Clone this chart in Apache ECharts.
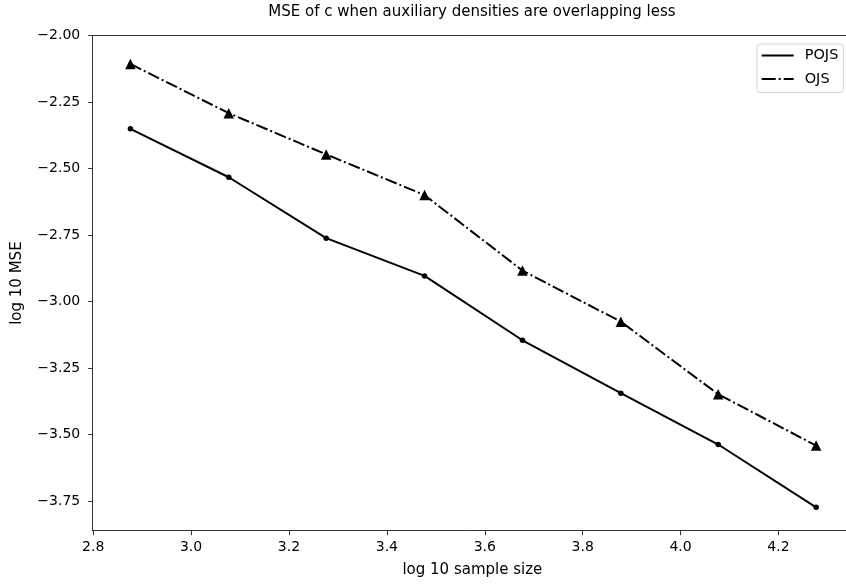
<!DOCTYPE html>
<html>
<head>
<meta charset="utf-8">
<script src="https://cdn.jsdelivr.net/npm/echarts@6/dist/echarts.min.js"></script>
<style>
html,body{margin:0;padding:0;background:#fff;}
#chart{width:846px;height:584px;}
</style>
</head>
<body>
<div id="chart"></div>
<script>
// Data
const sampleSizeLog = [2.876, 3.077, 3.276, 3.477, 3.677, 3.878, 4.077, 4.277];
const pojsMSE = [-2.351, -2.533, -2.762, -2.904, -3.146, -3.345, -3.538, -3.774];
const ojsMSE  = [-2.107, -2.292, -2.447, -2.600, -2.884, -3.076, -3.349, -3.542];
const xTicks = [2.8, 3.0, 3.2, 3.4, 3.6, 3.8, 4.0, 4.2];
const yTicks = [-3.75, -3.50, -3.25, -3.00, -2.75, -2.50, -2.25, -2.00];

const FONT = 'DejaVu Sans';
const pairs = (xs, ys) => xs.map((x, i) => [x, ys[i]]);
const minus = s => s.replace('-', '\u2212');

const chart = echarts.init(document.getElementById('chart'), null, {renderer: 'canvas'});
chart.setOption({
  animation: false,
  backgroundColor: '#fff',
  textStyle: {fontFamily: FONT},
  title: {
    text: 'MSE of c when auxiliary densities are overlapping less',
    left: 472, top: 5, textAlign: 'center', padding: 0,
    textStyle: {fontFamily: FONT, fontSize: 15, fontWeight: 'normal', color: '#000'}
  },
  grid: {left: 92.7, right: 0, top: 35.5, bottom: 53.3, containLabel: false},
  legend: {
    orient: 'vertical', left: 757, top: 44,
    padding: [4, 5, 6, 4.7],
    itemWidth: 32, itemHeight: 14, itemGap: 8.5,
    backgroundColor: '#fff', borderColor: '#d0d0d0', borderWidth: 1, borderRadius: 3,
    textStyle: {fontFamily: FONT, fontSize: 14.5, lineHeight: 15, color: '#000', padding: [0, 0, 0, 6]},
    data: [
      {name: 'POJS', icon: 'path://M0,0H32V2H0Z', itemStyle: {color: '#000'}},
      {name: 'OJS', icon: 'path://M0,0H14V2H0Z M17,0H19V2H17Z M22,0H32V2H22Z', itemStyle: {color: '#000'}}
    ]
  },
  xAxis: [{
    type: 'value', min: 2.799, max: 4.338,
    name: 'log 10 sample size', nameLocation: 'middle', nameGap: 31.5,
    nameTextStyle: {fontFamily: FONT, fontSize: 15, color: '#000', padding: [0, 0, 0, 6]},
    axisLine: {show: true, onZero: false, lineStyle: {color: '#333', width: 1}},
    axisTick: {show: true, inside: false, length: 4.5, customValues: xTicks, lineStyle: {color: '#333', width: 1}},
    axisLabel: {show: true, margin: 10, customValues: xTicks, fontFamily: FONT, fontSize: 14, color: '#000',
      formatter: v => v.toFixed(1)},
    splitLine: {show: false}
  }, {
    type: 'value', position: 'top', min: 2.799, max: 4.338,
    axisLine: {show: true, onZero: false, lineStyle: {color: '#333', width: 1}},
    axisTick: {show: false}, axisLabel: {show: false}, splitLine: {show: false}
  }],
  yAxis: {
    type: 'value', min: -3.862, max: -2.0,
    name: 'log 10 MSE', nameLocation: 'middle', nameGap: 68,
    nameTextStyle: {fontFamily: FONT, fontSize: 15, color: '#000'},
    axisLine: {show: true, onZero: false, lineStyle: {color: '#333', width: 1}},
    axisTick: {show: true, inside: false, length: 4.5, customValues: yTicks, lineStyle: {color: '#333', width: 1}},
    axisLabel: {show: true, margin: 12.5, customValues: yTicks, fontFamily: FONT, fontSize: 14, color: '#000',
      formatter: v => minus(v.toFixed(2))},
    splitLine: {show: false}
  },
  series: [{
    name: 'POJS', type: 'line', data: pairs(sampleSizeLog, pojsMSE),
    symbol: 'circle', symbolSize: 5.5, showAllSymbol: true,
    itemStyle: {color: '#000'},
    lineStyle: {color: '#000', width: 2, type: 'solid'},
    z: 3
  }, {
    name: 'OJS', type: 'line', data: pairs(sampleSizeLog, ojsMSE),
    symbol: 'triangle', symbolSize: 10.5, showAllSymbol: true,
    itemStyle: {color: '#000'},
    lineStyle: {color: '#000', width: 2, type: [12, 3, 2, 3]},
    z: 3
  }]
});
</script>
</body>
</html>
